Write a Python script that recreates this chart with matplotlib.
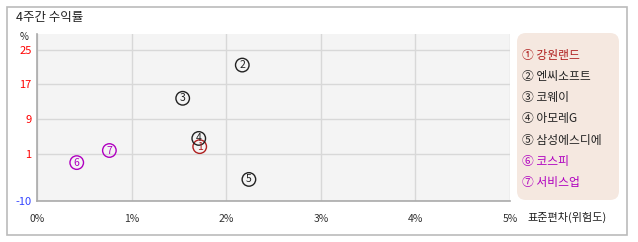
import matplotlib
matplotlib.use("Agg")
import matplotlib.pyplot as plt
from matplotlib.patches import FancyBboxPatch, Rectangle

plt.rcParams['font.family'] = ['Noto Sans CJK KR', 'DejaVu Sans']

names = ["강원랜드", "엔씨소프트", "코웨이", "아모레G", "삼성에스디에", "코스피", "서비스업"]
labels = ["①", "②", "③", "④", "⑤", "⑥", "⑦"]
digits = ["1", "2", "3", "4", "5", "6", "7"]
risk = [1.72, 2.17, 1.54, 1.71, 2.24, 0.42, 0.765]
ret = [2.6, 21.5, 13.8, 4.5, -5.0, -1.1, 1.7]
colors = ["#b02020", "#222222", "#222222", "#222222", "#222222", "#b000c0", "#b000c0"]
xticks = [0, 1, 2, 3, 4, 5]
xticklabels = ["0%", "1%", "2%", "3%", "4%", "5%"]
yticks = [25, 17, 9, 1, -10]
ytick_colors = ["red", "red", "red", "red", "#3344ff"]

W, H = 638, 242
fig = plt.figure(figsize=(W / 100, H / 100), dpi=100)

# outer frame
fig.patches.append(Rectangle((6.5 / W, 1 - 235 / H), 620 / W, 228 / H, transform=fig.transFigure,
                             fill=False, edgecolor="#bbbbbb", linewidth=1.2))

ax = fig.add_axes([37 / W, 1 - 201 / H, 473 / W, 167 / H])
ax.set_facecolor("#f4f4f4")
ax.set_xlim(0, 5)
ax.set_ylim(-10, 28.7)
ax.set_xticks(xticks)
ax.set_xticklabels(xticklabels, fontsize=7.5, color="#333333")
ax.set_yticks(yticks)
ax.set_yticklabels([str(v) for v in yticks], fontsize=8)
for t, c in zip(ax.get_yticklabels(), ytick_colors):
    t.set_color(c)
ax.tick_params(length=0, pad=9)
ax.tick_params(axis='y', pad=4)
ax.grid(True, color="#d8d8d8", linewidth=1)
ax.set_axisbelow(True)
for s in ["top", "right"]:
    ax.spines[s].set_visible(False)
for s in ["left", "bottom"]:
    ax.spines[s].set_color("#aaaaaa")
    ax.spines[s].set_linewidth(1.2)

for x, y, c, d in zip(risk, ret, colors, digits):
    ax.scatter([x], [y], s=95, facecolors="none", edgecolors=c, linewidths=1.0, zorder=3)
    ax.annotate(d, (x, y), ha="center", va="center", fontsize=7.5, color=c, zorder=4)

fig.text(16 / W, 1 - 17 / H, "4주간 수익률", fontsize=9, color="#222222", va="center", ha="left")
fig.text(24 / W, 1 - 37 / H, "%", fontsize=7, color="#222222", va="center", ha="center")
fig.text(527 / W, 1 - 217 / H, "표준편차(위험도)", fontsize=8, color="#222222", va="center", ha="left")

# legend box
fig.patches.append(FancyBboxPatch((517 / W, 1 - 200 / H), 102 / W, 167 / H,
                                  boxstyle="round,pad=0,rounding_size=0.014",
                                  transform=fig.transFigure, facecolor="#f5e8e0",
                                  edgecolor="none", mutation_aspect=W / H))
for i, (lab, nm, c) in enumerate(zip(labels, names, colors)):
    fig.text(522 / W, 1 - (55 + i * 21.3) / H, lab + " " + nm, fontsize=8.5, color=c, va="center", ha="left")

fig.savefig("out.png", dpi=100)
